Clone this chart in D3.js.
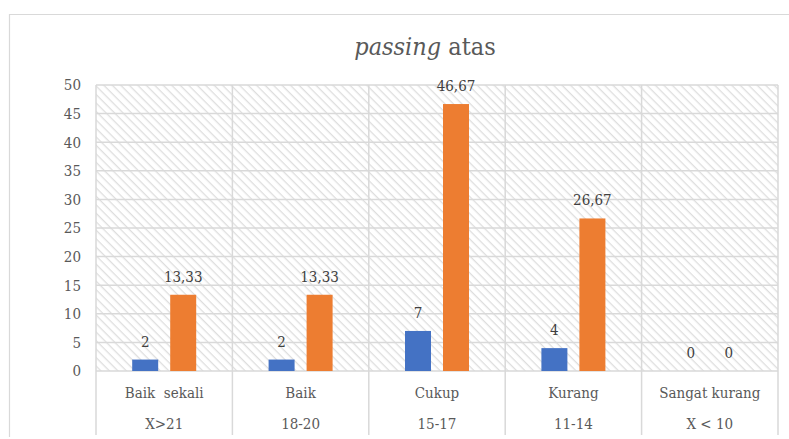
<!DOCTYPE html>
<html>
<head>
<meta charset="utf-8">
<script src="https://cdn.jsdelivr.net/npm/d3@7"></script>
<style>
  body { margin: 0; background: #fff; }
</style>
</head>
<body>
<div id="chart"></div>
<script>
// chart data
var categories = ["Baik  sekali", "Baik", "Cukup", "Kurang", "Sangat kurang"];
var ranges = ["X>21", "18-20", "15-17", "11-14", "X < 10"];
var seriesA = [2, 2, 7, 4, 0];
var seriesB = [13.33, 13.33, 46.67, 26.67, 0];
var seriesALabels = ["2", "2", "7", "4", "0"];
var seriesBLabels = ["13,33", "13,33", "46,67", "26,67", "0"];
var yTicks = [0, 5, 10, 15, 20, 25, 30, 35, 40, 45, 50];

var width = 789, height = 439;
var margin = { top: 85, right: 11, bottom: 68, left: 96 };
var plotW = width - margin.left - margin.right,
    plotH = height - margin.top - margin.bottom;
var gridColor = "#d9d9d9";
var serif = "DejaVu Serif Condensed, DejaVu Serif";

var svg = d3.select("#chart")
    .append("svg")
    .attr("width", width)
    .attr("height", height)
    .attr("font-family", serif);

// hatch pattern for the plot background
var defs = svg.append("defs");
var pat = defs.append("pattern")
    .attr("id", "hatch")
    .attr("patternUnits", "userSpaceOnUse")
    .attr("width", 6)
    .attr("height", 6)
    .attr("patternTransform", "rotate(45)");
pat.append("rect").attr("width", 6).attr("height", 6).attr("fill", "#fff");
pat.append("line")
    .attr("x1", 0).attr("y1", 0).attr("x2", 6).attr("y2", 0)
    .attr("stroke", "#dedede")
    .attr("stroke-width", 2.6);

// outer chart border
svg.append("path")
    .attr("d", "M9.5,437 L9.5,14.5 L795,14.5")
    .attr("fill", "none")
    .attr("stroke", "#d9d9d9")
    .attr("stroke-width", 1.2);

// title
var title = svg.append("text")
    .attr("x", 425)
    .attr("y", 55)
    .attr("text-anchor", "middle")
    .attr("fill", "#595959")
    .attr("font-family", serif)
    .attr("font-size", 25);
title.append("tspan").attr("font-style", "italic").text("passing");
title.append("tspan").text(" atas");

var g = svg.append("g")
    .attr("transform", "translate(" + margin.left + "," + margin.top + ")");

var x0 = d3.scaleBand()
    .domain(categories)
    .range([0, plotW]);

var x1 = d3.scaleBand()
    .domain(["a", "b"])
    .range([x0.bandwidth() / 2 - 32, x0.bandwidth() / 2 + 32])
    .paddingInner(0.316)
    .paddingOuter(0);

var y = d3.scaleLinear()
    .domain([0, 50])
    .range([plotH, 0]);

g.append("rect")
    .attr("width", plotW)
    .attr("height", plotH)
    .attr("fill", "url(#hatch)");

// horizontal gridlines
g.selectAll(".hgrid")
    .data(yTicks)
    .enter().append("line")
    .attr("x1", 0).attr("x2", plotW)
    .attr("y1", function(d) { return y(d); })
    .attr("y2", function(d) { return y(d); })
    .attr("stroke", gridColor)
    .attr("stroke-width", 1.5);

// vertical category dividers (extend into the label table)
var dividers = categories.map(function(c) { return x0(c); }).concat([plotW]);
g.selectAll(".vgrid")
    .data(dividers)
    .enter().append("line")
    .attr("x1", function(d) { return d; })
    .attr("x2", function(d) { return d; })
    .attr("y1", 0)
    .attr("y2", plotH + 64)
    .attr("stroke", gridColor)
    .attr("stroke-width", 1.5);

// y axis labels
var yAxis = d3.axisLeft(y).tickValues(yTicks).tickSize(0).tickPadding(15);
var ya = g.append("g").call(yAxis).attr("font-family", serif).attr("font-size", 15);
ya.select(".domain").remove();
ya.selectAll("text").attr("fill", "#595959");

// bars
var rows = categories.map(function(c, i) {
    return { cat: c, a: seriesA[i], b: seriesB[i], la: seriesALabels[i], lb: seriesBLabels[i] };
});

var groups = g.selectAll(".cat")
    .data(rows)
    .enter().append("g")
    .attr("font-family", serif)
    .attr("font-size", 15)
    .attr("transform", function(d) { return "translate(" + x0(d.cat) + ",0)"; });

groups.append("rect")
    .attr("x", x1("a"))
    .attr("width", x1.bandwidth())
    .attr("y", function(d) { return y(d.a); })
    .attr("height", function(d) { return plotH - y(d.a); })
    .attr("fill", "#4472c4");

groups.append("rect")
    .attr("x", x1("b"))
    .attr("width", x1.bandwidth())
    .attr("y", function(d) { return y(d.b); })
    .attr("height", function(d) { return plotH - y(d.b); })
    .attr("fill", "#ed7d31");

// data labels
groups.append("text")
    .attr("x", x1("a") + x1.bandwidth() / 2)
    .attr("y", function(d) { return y(d.a) - 13; })
    .attr("text-anchor", "middle")
    .attr("fill", "#404040")
    .text(function(d) { return d.la; });

groups.append("text")
    .attr("x", x1("b") + x1.bandwidth() / 2)
    .attr("y", function(d) { return y(d.b) - 13; })
    .attr("text-anchor", "middle")
    .attr("fill", "#404040")
    .text(function(d) { return d.lb; });

// two-level category labels
groups.append("text")
    .attr("x", x0.bandwidth() / 2)
    .attr("y", plotH + 27)
    .attr("text-anchor", "middle")
    .attr("fill", "#595959")
    .style("white-space", "pre")
    .text(function(d) { return d.cat; });

groups.append("text")
    .attr("x", x0.bandwidth() / 2)
    .attr("y", plotH + 58)
    .attr("text-anchor", "middle")
    .attr("fill", "#595959")
    .text(function(d, i) { return ranges[i]; });
</script>
</body>
</html>
